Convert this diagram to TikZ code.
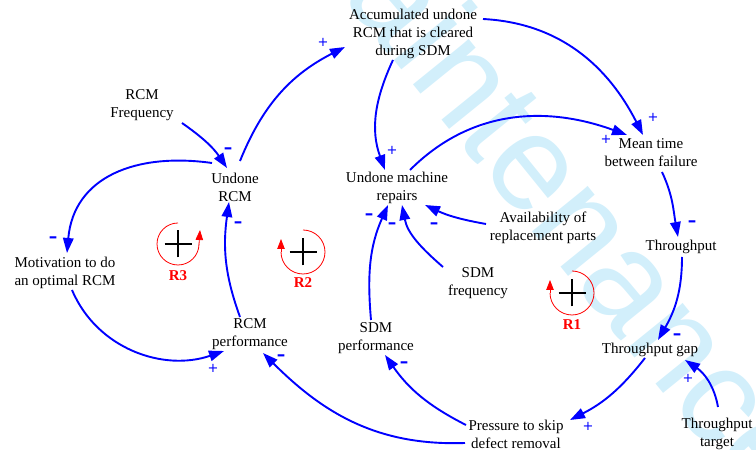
\documentclass[tikz,border=0pt]{standalone}
\usepackage{fontspec}
\setmainfont{Liberation Serif}
\newfontfamily\wmfont{Liberation Sans}
\newfontfamily\signfont{DejaVu Sans}
\usetikzlibrary{arrows.meta,calc}
\definecolor{linkblue}{RGB}{0,0,255}
\definecolor{loopred}{RGB}{255,0,0}
\definecolor{wmblue}{RGB}{210,239,251}
\begin{document}
\begin{tikzpicture}[x=1pt,y=1pt,
  var/.style={align=center,font=\fontsize{15}{18}\selectfont,inner sep=1pt},
  link/.style={draw=linkblue,line width=1.9pt,-{Triangle[length=15pt,width=10.5pt]}},
  possign/.style={text=linkblue,font=\signfont\fontsize{13}{13}\selectfont,inner sep=0pt},
  negsign/.style={text=linkblue,font=\signfont\bfseries\fontsize{17}{17}\selectfont,inner sep=0pt},
  loopc/.style={draw=loopred,line width=0.8pt},
  looptip/.style={draw=loopred,line width=0.8pt,-{Triangle[length=10pt,width=7.5pt]}},
  looplabel/.style={text=loopred,font=\bfseries\fontsize{15}{15}\selectfont,inner sep=0pt},
  plusmark/.style={draw=black,line width=1.7pt}
]
\useasboundingbox (0,0) rectangle (756,450);
% watermark
\node[rotate=-51,text=wmblue,font=\wmfont\fontsize{136}{136}\selectfont] (wm) at (552,271) {maintenance};

% variables
\node[var] (acc) at (413,416) {Accumulated undone\\RCM that is cleared\\during SDM};
\node[var] (rcmf) at (142,345) {RCM\\Frequency};
\node[var] (urcm) at (235,263) {Undone\\RCM};
\node[var] (umr) at (397,262) {Undone machine\\repairs};
\node[var] (mtbf) at (651,297) {Mean time\\between failure};
\node[var] (avail) at (543,222) {Availability of\\replacement parts};
\node[var] (thr) at (681,203) {Throughput};
\node[var] (sdmf) at (478,167) {SDM\\frequency};
\node[var] (motiv) at (65,177) {Motivation to do\\an optimal RCM};
\node[var] (rcmp) at (250,116) {RCM\\performance};
\node[var] (sdmp) at (376,112) {SDM\\performance};
\node[var] (tgap) at (650,100) {Throughput gap};
\node[var] (press) at (516,16) {Pressure to skip\\defect removal};
\node[var] (ttarget) at (717,16) {Throughput\\target};

% links
\draw[link] ($(urcm)+(5,26)$) to[out=68,in=207] ($(acc)+(-68,-13)$);
\draw[link] ($(rcmf)+(40,-18)$) to[out=-35,in=124] ($(urcm)+(-8,19)$);
\draw[link] ($(urcm)+(-23,24)$) to[out=172,in=85,looseness=1.15] ($(motiv)+(2,20)$);
\draw[link] ($(motiv)+(7,-17)$) to[out=-67,in=199] ($(rcmp)+(-26,-17)$);
\draw[link] ($(rcmp)+(-10,17)$) to[out=110,in=262] ($(urcm)+(-6,-15)$);
\draw[link] ($(acc)+(-20,-26)$) to[out=-115,in=110] ($(umr)+(-12,18)$);
\draw[link] ($(umr)+(13,18)$) to[out=45,in=160] ($(mtbf)+(-24,18)$);
\draw[link] ($(acc)+(70,15)$) to[out=-3,in=117] ($(mtbf)+(-8,18)$);
\draw[link] ($(mtbf)+(11,-19)$) to[out=-65,in=100] ($(thr)+(-3,10)$);
\draw[link] ($(thr)+(1,-10)$) to[out=-90,in=60] ($(tgap)+(8,10)$);
\draw[link] ($(ttarget)+(1,27)$) to[out=100,in=-34] ($(tgap)+(35,-10)$);
\draw[link] ($(tgap)+(-5,-8)$) to[out=-128,in=27] ($(press)+(54,14)$);
\draw[link] ($(press)+(-50,9)$) to[out=153,in=-55] ($(sdmp)+(9,-17)$);
\draw[link] ($(sdmp)+(-5,18)$) to[out=95,in=246] ($(umr)+(-9,-17)$);
\draw[link] ($(sdmf)+(-35,16)$) to[out=139,in=-79] ($(umr)+(5,-17)$);
\draw[link] ($(avail)+(-57,4)$) to[out=170,in=-25] ($(umr)+(28,-17)$);
\draw[link] ($(press)+(-51,-9)$) to[out=182,in=-45] ($(rcmp)+(13,-19)$);

% polarities
\node[possign] (s1) at (323,408) {+};
\node[negsign] (s2) at (228,299) {–};
\node[negsign] (s3) at (238,225) {–};
\node[negsign] (s4) at (53,210) {–};
\node[possign] (s5) at (213,82) {+};
\node[negsign] (s6) at (281,92) {–};
\node[possign] (s7) at (392,300) {+};
\node[possign] (s8) at (606,311) {+};
\node[possign] (s9) at (653,333) {+};
\node[negsign] (s10) at (692,226) {–};
\node[negsign] (s11) at (677,113) {–};
\node[possign] (s12) at (688,72) {+};
\node[possign] (s13) at (588,24) {+};
\node[negsign] (s14) at (404,85) {–};
\node[negsign] (s15) at (369,233) {–};
\node[negsign] (s16) at (392,224) {–};
\node[negsign] (s17) at (434,224) {–};

% loops
\coordinate (r3) at (178,206);
\coordinate (r2) at (303,198);
\coordinate (r1) at (572,157);
\draw[loopc] ([shift={(90:21)}]r3) arc[start angle=90,end angle=360,radius=21];
\draw[looptip] ([shift={(21,-0.5)}]r3) -- ([shift={(22,14)}]r3);
\draw[loopc] ([shift={(90:22)}]r2) arc[start angle=90,end angle=-180,radius=22];
\draw[looptip] ([shift={(-22,-0.5)}]r2) -- ([shift={(-22,13)}]r2);
\draw[loopc] ([shift={(90:22)}]r1) arc[start angle=90,end angle=-180,radius=22];
\draw[looptip] ([shift={(-22,-0.5)}]r1) -- ([shift={(-22,13)}]r1);
\foreach \c in {r3,r2,r1}{
  \draw[plusmark] ([xshift=-13.5pt]\c) -- ([xshift=13.5pt]\c);
  \draw[plusmark] ([yshift=-13.5pt]\c) -- ([yshift=13.5pt]\c);
}
\node[looplabel] (l3) at (178,174) {R3};
\node[looplabel] (l2) at (303,167) {R2};
\node[looplabel] (l1) at (572,125) {R1};
\end{tikzpicture}
\end{document}
